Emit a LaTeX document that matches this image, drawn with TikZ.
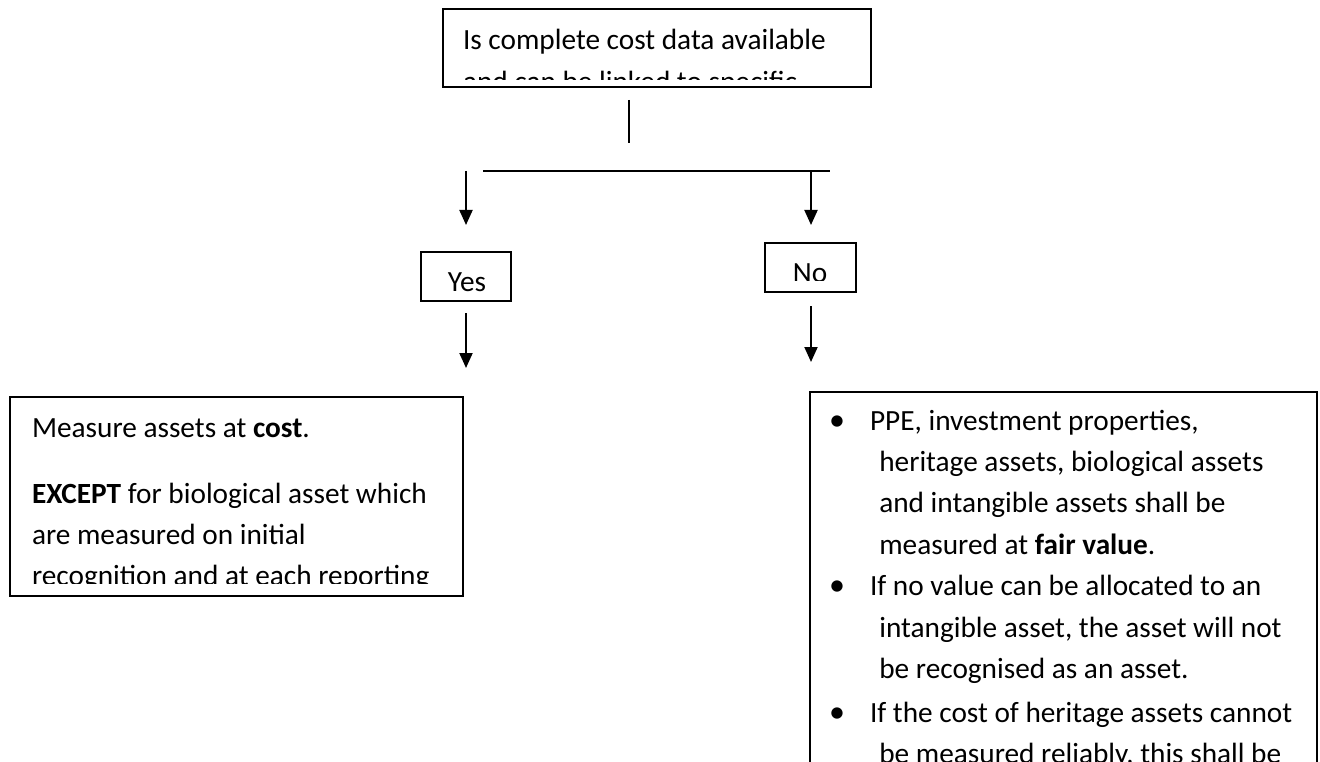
\documentclass[tikz,border=0pt]{standalone}
\usepackage{fontspec}
\setmainfont{Carlito}
\usetikzlibrary{arrows.meta}

% body text: 11pt Calibri-like at 1.15 line spacing, drawn at 1px = 1pt
\newcommand{\bodysize}{\fontsize{29.3pt}{41.4pt}\selectfont}
% hanging indent of wrapped list lines
\newcommand{\cont}{\hspace*{9.3pt}}

\begin{document}
\begin{tikzpicture}[x=1pt,y=-1pt,
  frame/.style={draw, line width=1.8pt, inner sep=0pt, outer sep=0pt, anchor=north west},
  link/.style={line width=1.3pt},
  down/.style={line width=2pt, -{Triangle[length=15pt,width=13pt]}},
  % multi-line texts are placed by the baseline of their last line
  words/.style={font=\bodysize, inner sep=0pt, outer sep=0pt, anchor=base west, align=left},
  label/.style={font=\bodysize, inner sep=0pt, outer sep=0pt, anchor=base},
  dot/.style={font=\fontsize{32pt}{41.4pt}\selectfont, inner sep=0pt, outer sep=0pt, anchor=base},
]
\useasboundingbox (0,0) rectangle (1320,762);
\clip (0,0) rectangle (1320,762);

% ---- boxes ----
\node[frame, minimum width=428pt, minimum height=78pt]  (question) at (443,9)   {};
\node[frame, minimum width=90pt,  minimum height=49pt]  (yesbox)   at (421,252) {};
\node[frame, minimum width=91pt,  minimum height=49pt]  (nobox)    at (765,243) {};
\node[frame, minimum width=453pt, minimum height=199pt] (costbox)  at (10,397)  {};
\node[frame, minimum width=507pt, minimum height=420pt] (fairbox)  at (810,392) {};

% ---- box texts (cut off where the frame runs out of room) ----
\begin{scope}
  \clip (443,9) rectangle (871,80);
  \node[words] (qtext) at (463,91.4)
    {Is complete cost data available\\and can be linked to specific};
\end{scope}

\node[label] (yestext) at (467,291) {Yes};
\begin{scope}
  \clip (765,243) rectangle (856,280);
  \node[label] (notext) at (810,283) {No};
\end{scope}

\node[words] (costhead) at (32,437) {Measure assets at \textbf{cost}.};
\begin{scope}
  \clip (10,397) rectangle (463,583);
  \node[words] (costbody) at (32,585.8)
    {\textbf{EXCEPT} for biological asset which\\are measured on initial\\recognition and at each reporting};
\end{scope}

\node[dot] (dotA) at (837,430) {•};
\node[words] (itemA) at (870,554.2)
  {PPE, investment properties,\\\cont heritage assets, biological assets\\\cont and intangible assets shall be\\\cont measured at \textbf{fair value}.};
\node[dot] (dotB) at (837,595.6) {•};
\node[words] (itemB) at (870,678.4)
  {If no value can be allocated to an\\\cont intangible asset, the asset will not\\\cont be recognised as an asset.};
\node[dot] (dotC) at (837,722) {•};
\node[words] (itemC) at (870,763.4)
  {If the cost of heritage assets cannot\\\cont be measured reliably, this shall be};

% ---- connectors ----
\coordinate (stemTop) at (629,100);
\coordinate (stemBot) at (629,143);
\coordinate (barL)    at (483,171);
\coordinate (barR)    at (830,171);
\coordinate (yesFrom) at (466,171);
\coordinate (yesTo)   at (466,225);
\coordinate (noFrom)  at (811,171);
\coordinate (noTo)    at (811,225);
\coordinate (costFrom) at (466,313);
\coordinate (costTo)   at (466,368);
\coordinate (fairFrom) at (811,306);
\coordinate (fairTo)   at (811,362);

\draw[link] (stemTop) -- (stemBot);
\draw[link] (barL) -- (barR);
\draw[down] (yesFrom) -- (yesTo);
\draw[down] (noFrom) -- (noTo);
\draw[down] (costFrom) -- (costTo);
\draw[down] (fairFrom) -- (fairTo);
\end{tikzpicture}
\end{document}
